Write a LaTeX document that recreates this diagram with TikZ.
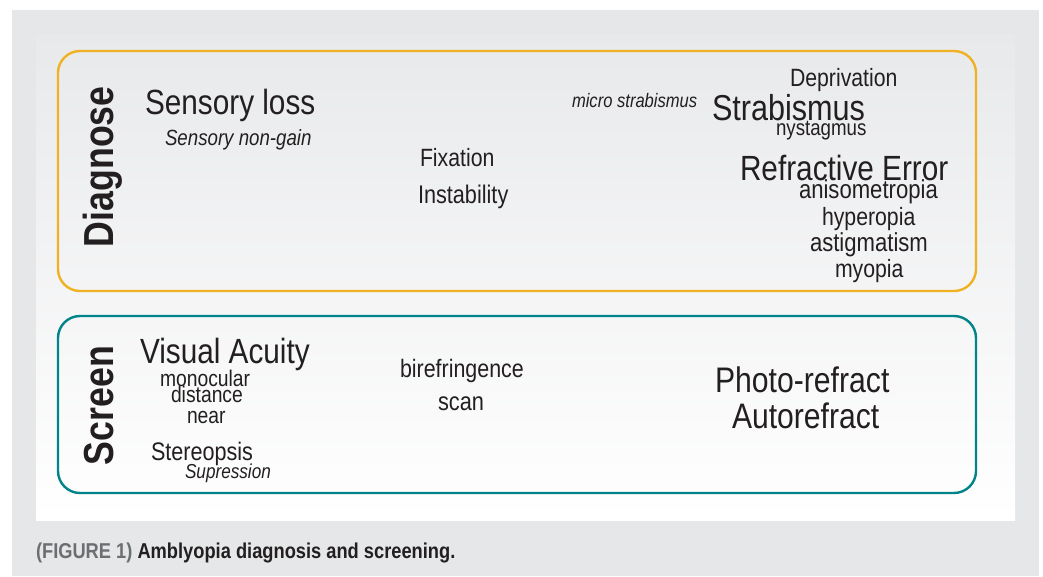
\documentclass[tikz,border=0pt]{standalone}
\usepackage{fontspec}
\setmainfont{Liberation Sans}[FakeStretch=0.85]
\definecolor{ink}{RGB}{35,31,32}
\definecolor{outergray}{RGB}{230,231,232}
\definecolor{paneltop}{RGB}{232,233,235}
\definecolor{orangeline}{RGB}{240,178,35}
\definecolor{tealline}{RGB}{0,132,137}
\definecolor{capgray}{RGB}{109,110,113}
\newcommand\fsz[1]{\fontsize{#1}{#1}\selectfont}
\begin{document}
\begin{tikzpicture}[x=1pt,y=-1pt,
  lab/.style={anchor=base west,inner sep=0pt,outer sep=0pt,text=ink},
  sidelab/.style={anchor=base west,inner sep=0pt,outer sep=0pt,text=ink,rotate=90,font=\bfseries\fsz{42}},
  groupbox/.style={line width=2.4pt,rounded corners=22pt}]
\useasboundingbox (0,0) rectangle (1043,576);
\fill[white] (0,0) rectangle (1043,576);
\fill[outergray] (12,10) rectangle (1039,576);
\shade[top color=paneltop,bottom color=white] (36,34) rectangle (1015,520);
% boxes
\draw[groupbox,draw=orangeline] (58,51) rectangle (976,291);
\draw[groupbox,draw=tealline] (58,316) rectangle (976,493);
% Diagnose group
\node[sidelab] (diag) at (113,247) {Diagnose};
\node[lab,font=\fsz{35}] (sloss) at (145,114) {Sensory loss};
\node[lab,font=\itshape\fsz{22}] (snongain) at (165,145) {Sensory non-gain};
\node[lab,font=\fsz{25}] (fix) at (420,166) {Fixation};
\node[lab,font=\fsz{25.5}] (instab) at (418,203) {Instability};
\node[lab,font=\itshape\fsz{19.5}] (micro) at (572,107) {micro strabismus};
\node[lab,font=\fsz{36}] (strab) at (712,120) {Strabismus};
\node[lab,font=\fsz{25}] (depriv) at (790,86) {Deprivation};
\node[lab,font=\fsz{22}] (nyst) at (776,135) {nystagmus};
\node[lab,font=\fsz{35}] (referr) at (740,180) {Refractive Error};
\node[lab,font=\fsz{26}] (aniso) at (799,198) {anisometropia};
\node[lab,font=\fsz{25}] (hyper) at (822,225) {hyperopia};
\node[lab,font=\fsz{26}] (astig) at (810,251) {astigmatism};
\node[lab,font=\fsz{25}] (myop) at (835,277) {myopia};
% Screen group
\node[sidelab] (screen) at (113,465) {Screen};
\node[lab,font=\fsz{35}] (va) at (140,363) {Visual Acuity};
\node[lab,font=\fsz{22.7}] (mono) at (160,386) {monocular};
\node[lab,font=\fsz{22.7}] (dist) at (171,402) {distance};
\node[lab,font=\fsz{22.7}] (near) at (187,423) {near};
\node[lab,font=\fsz{25.4}] (stereo) at (151,460) {Stereopsis};
\node[lab,font=\itshape\fsz{20.2}] (supp) at (185,478) {Supression};
\node[lab,font=\fsz{25.2}] (biref) at (400,377) {birefringence};
\node[lab,font=\fsz{25.6}] (scan) at (438,410) {scan};
\node[lab,font=\fsz{35.5}] (photo) at (715,392) {Photo-refract};
\node[lab,font=\fsz{35.4}] (auto) at (732,428) {Autorefract};
% caption
\node[lab,font=\bfseries\fsz{21.5}] (caption) at (36,558) {\textcolor{capgray}{(FIGURE 1)} Amblyopia diagnosis and screening.};
\end{tikzpicture}
\end{document}
